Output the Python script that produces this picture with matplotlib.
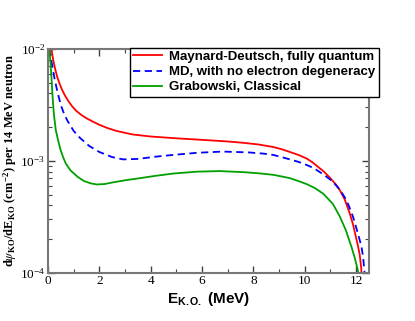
import matplotlib
matplotlib.use("Agg")
import matplotlib.pyplot as plt
from matplotlib.ticker import MultipleLocator, LogLocator

plt.rcParams["mathtext.fontset"] = "stix"

# Maynard-Deutsch, fully quantum
e_md = [0.12, 0.2, 0.28, 0.36, 0.45, 0.55, 0.67, 0.8, 0.95, 1.1, 1.3, 1.5, 1.75, 2.0, 2.3,
        2.67, 3.3, 4.0, 5.0, 6.2, 7.0, 7.6, 8.2, 8.77, 9.1, 9.42, 9.75, 10.07, 10.3, 10.5,
        10.75, 10.97, 11.2, 11.36, 11.56, 11.75, 11.88, 11.98, 12.07, 12.14, 12.2, 12.24]
y_md = [1.05e-2, 8.0e-3, 6.6e-3, 5.6e-3, 4.9e-3, 4.3e-3, 3.8e-3, 3.4e-3, 3.05e-3, 2.8e-3,
        2.57e-3, 2.4e-3, 2.24e-3, 2.1e-3, 1.97e-3, 1.85e-3, 1.72e-3, 1.65e-3, 1.59e-3,
        1.53e-3, 1.49e-3, 1.45e-3, 1.40e-3, 1.33e-3, 1.27e-3, 1.2e-3, 1.13e-3, 1.05e-3,
        9.7e-4, 8.9e-4, 8.0e-4, 7.1e-4, 6.2e-4, 5.5e-4, 4.5e-4, 3.4e-4, 2.7e-4, 2.15e-4,
        1.75e-4, 1.45e-4, 1.1e-4, 7e-5]

# MD, no electron degeneracy
e_nd = [0.05, 0.1, 0.17, 0.25, 0.36, 0.5, 0.62, 0.75, 0.88, 1.0, 1.25, 1.6, 2.0, 2.5, 2.93,
        3.5, 4.2, 4.88, 5.8, 6.8, 7.8, 8.4, 8.77, 9.1, 9.42, 9.75, 10.07, 10.35, 10.6, 10.85,
        11.1, 11.4, 11.62, 11.75, 11.88, 12.0, 12.14, 12.22, 12.27, 12.33, 12.38]
y_nd = [1.0e-2, 8.5e-3, 7.0e-3, 5.5e-3, 4.2e-3, 3.15e-3, 2.65e-3, 2.3e-3, 2.05e-3, 1.85e-3,
        1.6e-3, 1.36e-3, 1.2e-3, 1.08e-3, 1.03e-3, 1.04e-3, 1.09e-3, 1.13e-3, 1.18e-3,
        1.21e-3, 1.19e-3, 1.16e-3, 1.13e-3, 1.08e-3, 1.03e-3, 9.8e-4, 9.2e-4, 8.6e-4,
        7.9e-4, 7.2e-4, 6.5e-4, 5.4e-4, 4.46e-4, 3.8e-4, 3.16e-4, 2.55e-4, 1.96e-4,
        1.65e-4, 1.4e-4, 1.0e-4, 7e-5]

# Grabowski, classical
e_gr = [0.05, 0.1, 0.14, 0.17, 0.2, 0.23, 0.3, 0.4, 0.49, 0.6, 0.7, 0.88, 1.15, 1.4, 1.65,
        1.9, 2.2, 2.5, 3.0, 3.58, 4.2, 4.88, 5.8, 6.69, 7.7, 8.3, 8.77, 9.1, 9.42, 9.75,
        10.07, 10.4, 10.71, 10.9, 11.1, 11.36, 11.6, 11.82, 11.95, 12.07, 12.12]
y_gr = [1.05e-2, 7.3e-3, 5.3e-3, 4.0e-3, 3.2e-3, 2.6e-3, 1.9e-3, 1.5e-3, 1.25e-3, 1.06e-3,
        9.4e-4, 8.2e-4, 7.2e-4, 6.6e-4, 6.3e-4, 6.15e-4, 6.2e-4, 6.4e-4, 6.7e-4, 7.0e-4,
        7.35e-4, 7.7e-4, 8.0e-4, 8.1e-4, 7.9e-4, 7.7e-4, 7.5e-4, 7.25e-4, 7.0e-4, 6.6e-4,
        6.2e-4, 5.7e-4, 5.1e-4, 4.6e-4, 4.1e-4, 3.2e-4, 2.4e-4, 1.7e-4, 1.35e-4, 1.05e-4,
        7e-5]

fig = plt.figure(figsize=(4.15, 3.21), dpi=100)
ax = fig.add_axes([0.1157, 0.1505, 0.889 - 0.1157, 0.8474 - 0.1505])

ax.plot(e_md, y_md, color="#ff0000", lw=1.3, label="Maynard-Deutsch, fully quantum")
ax.plot(e_nd, y_nd, color="#0000ff", lw=1.3, ls=(0, (4, 2.5)),
        label="MD, with no electron degeneracy")
ax.plot(e_gr, y_gr, color="#00a000", lw=1.3, label="Grabowski, Classical")

ax.set_yscale("log")
ax.set_xlim(0, 12.5)
ax.set_ylim(1e-4, 1e-2)
ax.xaxis.set_major_locator(MultipleLocator(2))
ax.xaxis.set_minor_locator(MultipleLocator(1))
ax.yaxis.set_minor_locator(LogLocator(base=10, subs=range(2, 10)))

ax.tick_params(which="both", direction="in", top=True, right=True, color="#444444")
ax.tick_params(which="major", length=5, width=1, pad=2)
ax.tick_params(which="minor", length=3, width=0.8)
for lab in ax.get_xticklabels() + ax.get_yticklabels():
    lab.set_fontfamily("Liberation Serif")
    lab.set_fontsize(9.5)
for sp in ax.spines.values():
    sp.set_color("#777777")
    sp.set_linewidth(1.5)

ax.set_xlabel(r"E$_{\mathdefault{K.O.}}$ (MeV)", fontfamily="Liberation Sans",
              fontweight="bold", fontsize=11, labelpad=2)
ax.set_ylabel(r"d$\psi_{\mathdefault{KO}}$/dE$_{\mathdefault{KO}}$ (cm$^{\mathdefault{-2}}$) per 14 MeV neutron",
              fontfamily="Liberation Serif", fontweight="bold", fontsize=9, labelpad=1)
ax.yaxis.set_label_coords(-0.087, 0.5)

leg = ax.legend(loc="upper right", bbox_to_anchor=(0.913, 0.852), bbox_transform=fig.transFigure,
                fancybox=False, edgecolor="black", framealpha=1, borderaxespad=0,
                handlelength=2.2, handletextpad=0.55, borderpad=0.25, labelspacing=0.22,
                prop={"family": "Liberation Sans", "weight": "bold", "size": 9.5})
leg.get_frame().set_linewidth(1.0)

fig.savefig("out.png", dpi=100)
